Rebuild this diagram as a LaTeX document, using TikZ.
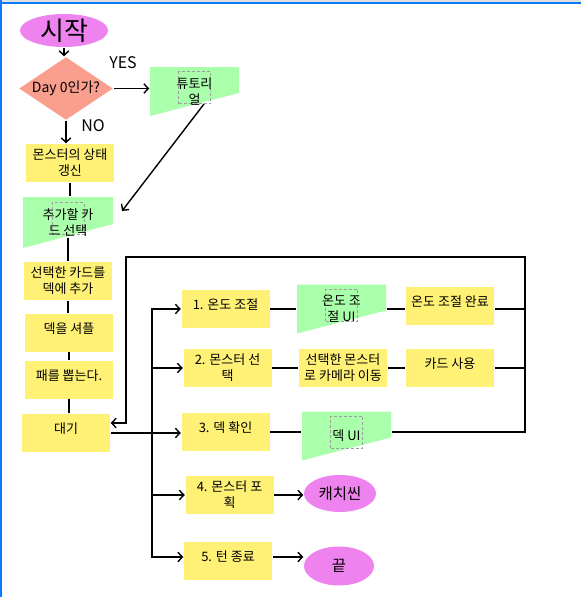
\documentclass[tikz,border=0pt]{standalone}
\usepackage{fontspec}
\setmainfont{Noto Sans CJK KR}
\usetikzlibrary{arrows.meta}
\usetikzlibrary{shapes.geometric}
\usetikzlibrary{calc}
\tikzset{>={Straight Barb[length=4.5pt,width=9.5pt]}}
\definecolor{frameblue}{HTML}{0A7BFF}
\definecolor{boxyellow}{HTML}{FFF176}
\definecolor{uigreen}{HTML}{AAFFAA}
\definecolor{termviolet}{HTML}{EE82EE}
\definecolor{asksalmon}{HTML}{FA9E8E}
\tikzstyle{box}=[fill=boxyellow,minimum width=88pt,minimum height=38pt,inner sep=1pt,align=center]
\tikzstyle{lift}=[text depth=9pt]
\tikzstyle{term}=[ellipse,fill=termviolet,inner sep=0pt,font=\fontsize{15.5}{18}\selectfont]
\tikzstyle{uibox}=[fill=white,minimum width=89pt,minimum height=49pt,inner sep=1pt,align=center,
	path picture={
		\fill[uigreen] (path picture bounding box.north west) -- (path picture bounding box.north east)
		-- ($(path picture bounding box.north east)!0.53!(path picture bounding box.south east)$)
		-- (path picture bounding box.south west) -- cycle;
		\draw[black!38,dash pattern=on 3pt off 2pt,line width=0.8pt]
		($(path picture bounding box.center)+(-16pt,-12pt)$) rectangle ($(path picture bounding box.center)+(16pt,20pt)$);
	}]

\begin{document}
\begin{tikzpicture}[x=1pt,y=-1pt,line width=1.4pt,font=\fontsize{13}{16}\selectfont]
	\def\busx{152}    % left bus
	\def\loopx{525}   % right bus
	\def\loopy{257}   % top of loop
	\useasboundingbox (0,0) rectangle (581,597);
	
	% FRAME
	\fill[black!12] (0,0) rectangle (581,1.5);
	\fill[frameblue] (0,1.5) rectangle (581,3.5);
	\fill[frameblue] (0,0) rectangle (2,597);
	
	% MAIN COLUMN
	\node[term,minimum width=88pt,minimum height=33pt,font=\fontsize{26}{30}\selectfont,text height=20pt,text depth=0pt] (start) at (64,30.5) {시작};
	\node[diamond,fill=asksalmon,aspect=1.5,inner sep=0pt,minimum width=94pt,minimum height=63pt,font=\fontsize{14}{16}\selectfont] (day0) at (66,88.5) {Day 0인가?};
	\node[font=\fontsize{16}{19}\selectfont] (yes) at (123,63) {YES};
	\node[font=\fontsize{16}{19}\selectfont] (no) at (93,126) {NO};
	\node[uibox] (tut) at (194.5,91.5) {튜토리\\얼};
	\node[box] (state) at (70,163) {몬스터의 상태\\갱신};
	\node[uibox,minimum width=90pt,minimum height=51pt] (pick) at (68,222.5) {추가할 카\\드 선택};
	\node[box] (add) at (68,281) {선택한 카드를\\덱에 추가};
	\node[box,lift] (shuffle) at (69,332.5) {덱을 셔플};
	\node[box,lift] (deal) at (69,379.5) {패를 뽑는다.};
	\node[box,lift] (wait) at (66,433) {대기};
	
	% BRANCHES
	\node[box,lift] (temp) at (225.5,309) {1. 온도 조절};
	\node[uibox] (tempui) at (341.5,309) {온도 조\\절 UI};
	\node[box,lift] (tempdone) at (450,306) {온도 조절 완료};
	\node[box] (pickmon) at (227.5,368) {2. 몬스터 선\\택};
	\node[box] (cam) at (343,368) {선택한 몬스터\\로 카메라 이동};
	\node[box,lift] (use) at (450,368) {카드 사용};
	\node[box,lift] (deck) at (225.5,432) {3. 덱 확인};
	\node[uibox] (deckui) at (346.5,436) {덱 UI};
	\node[box] (catch) at (229.5,495) {4. 몬스터 포\\획};
	\node[term,minimum width=72pt,minimum height=37pt] (cs) at (340,493.5) {캐치씬};
	\node[box,lift] (endturn) at (228,561) {5. 턴 종료};
	\node[term,minimum width=70pt,minimum height=39pt] (fin) at (339,566) {끝};
	
	\coordinate (tutfoot) at (204,104);
	\coordinate (pickside) at (122,211);
	\coordinate (bus) at (\busx,433);
	\coordinate (loopR) at (\loopx,\loopy);
	\coordinate (loopL) at (126,\loopy);
	
	% LINES
	\draw[->] (start) -- (start |- day0.north);
	\draw[->] (day0) -- (day0 -| tut.west);
	\draw[->] (day0) -- (day0 |- state.north);
	\draw[->] (tutfoot) -- (pickside);
	\draw (state) -- (state |- pick.north);
	\draw ([yshift=-15pt]pick.center) -- (pick |- add.north);
	\draw (add) -- (add |- shuffle.north);
	\draw (shuffle) -- (shuffle |- deal.north);
	\draw (deal) -- (deal |- wait.north);
	\draw[->] (wait) -- (wait -| deck.west);
	\foreach \n in {temp,pickmon,catch}
	\draw[->] (bus) |- (\n);
	\draw[->] (bus) |- ([yshift=4pt]endturn.west);
	\draw[->] ([yshift=4pt]endturn.east) -- ([yshift=4pt]endturn.east -| fin.west);
	\draw[->] (catch) -- (catch -| cs.west);
	\draw (temp) -- (tempui) -- (tempui -| tempdone.west);
	\draw (tempui -| tempdone.east) -- (tempui -| loopR);
	\draw (pickmon) -- (cam) -- (use) -- (use -| loopR);
	\draw (deck) -- (deck -| deckui.west);
	
	% LOOP
	\draw[->] (deck -| deckui.east) -- (deck -| loopR) -- (loopR) -- (loopL) |- ([yshift=10pt]wait.east);
	
\end{tikzpicture}
\end{document}
